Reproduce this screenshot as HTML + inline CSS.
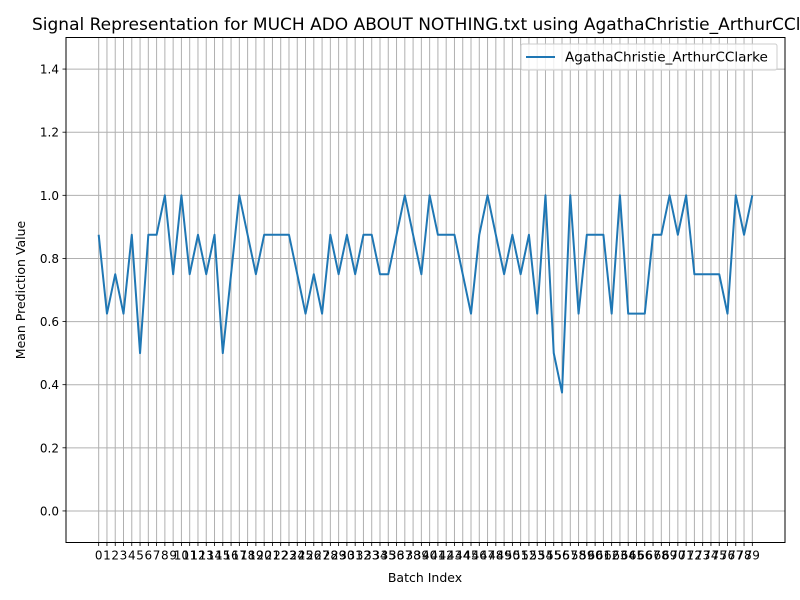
<!DOCTYPE html>
<html><head><meta charset="utf-8"><style>
body{margin:0;background:#fff;}
svg{display:block;font-family:"DejaVu Sans","Liberation Sans",sans-serif;}
</style></head><body>
<svg id="chart" width="800" height="600" xmlns="http://www.w3.org/2000/svg">
<rect width="800" height="600" fill="#fff"/>
<g id="grid"></g>
<g id="xticks"></g>
<g id="yticks"></g>
<g id="series"></g>
<rect x="66" y="37.5" width="719" height="505" fill="none" stroke="#000" stroke-width="1"/>
<text x="32" y="30" font-size="17" text-anchor="start">Signal Representation for MUCH ADO ABOUT NOTHING.txt using AgathaChristie_ArthurCClarke</text>
<text x="425" y="582" font-size="12.5" text-anchor="middle">Batch Index</text>
<text x="25" y="290" font-size="12.5" text-anchor="middle" transform="rotate(-90 25 290)">Mean Prediction Value</text>
<g>
<rect x="521" y="44" width="256" height="26" rx="2" fill="#fff" fill-opacity="0.8" stroke="#ccc"/>
<line x1="526" y1="57" x2="555" y2="57" stroke="#1f77b4" stroke-width="2"/>
<text x="565" y="61.5" font-size="13.6">AgathaChristie_ArthurCClarke</text>
</g>
</svg>
<script>
const batchIndex = Array.from({length:80},(_,i)=>i);
const meanValues = [0.875,0.625,0.75,0.625,0.875,0.5,0.875,0.875,1.0,0.75,
1.0,0.75,0.875,0.75,0.875,0.5,0.75,1.0,0.875,0.75,
0.875,0.875,0.875,0.875,0.75,0.625,0.75,0.625,0.875,0.75,
0.875,0.75,0.875,0.875,0.75,0.75,0.875,1.0,0.875,0.75,
1.0,0.875,0.875,0.875,0.75,0.625,0.875,1.0,0.875,0.75,
0.875,0.75,0.875,0.625,1.0,0.5,0.375,1.0,0.625,0.875,
0.875,0.875,0.625,1.0,0.625,0.625,0.625,0.875,0.875,1.0,
0.875,1.0,0.75,0.75,0.75,0.75,0.625,1.0,0.875,1.0];
const yTicks = [0.0,0.2,0.4,0.6,0.8,1.0,1.2,1.4];
const yTickLabels = ["0.0","0.2","0.4","0.6","0.8","1.0","1.2","1.4"];

const NS="http://www.w3.org/2000/svg";
const L=66,R=785,T=37.5,B=542.5;
const n=batchIndex.length;
const xmin=-(n-1)*0.05, xmax=(n-1)*1.05;
const ymin=-0.1, ymax=1.5;
const xs=v=>L+(v-xmin)/(xmax-xmin)*(R-L);
const ys=v=>B-(v-ymin)/(ymax-ymin)*(B-T);
function mk(tag,attrs,parent){const e=document.createElementNS(NS,tag);for(const k in attrs)e.setAttribute(k,attrs[k]);parent.appendChild(e);return e;}
const grid=document.getElementById('grid'),xt=document.getElementById('xticks'),yt=document.getElementById('yticks'),ser=document.getElementById('series');
batchIndex.forEach(i=>{
  const x=xs(i);
  const g=mk('line',{x1:x,x2:x,y1:T,y2:B,stroke:'#b0b0b0','stroke-width':1},grid);
  
  
  mk('line',{x1:x,x2:x,y1:B,y2:B+3.5,stroke:'#000','stroke-width':0.8},xt);
  const t=mk('text',{x:x,y:B+17,'font-size':12,'text-anchor':'middle'},xt);
  t.textContent=String(i);
  
  
});
yTicks.forEach((v,k)=>{
  const y=ys(v);
  const g=mk('line',{x1:L,x2:R,y1:y,y2:y,stroke:'#b0b0b0','stroke-width':1},grid);
  
  
  mk('line',{x1:L-3.5,x2:L,y1:y,y2:y,stroke:'#000','stroke-width':0.8},yt);
  const t=mk('text',{x:L-7,y:y+4.5,'font-size':12,'text-anchor':'end'},yt);
  t.textContent=yTickLabels[k];
  
  
});
const pts=batchIndex.map((i,k)=>xs(i).toFixed(2)+','+ys(meanValues[k]).toFixed(2)).join(' ');
const pl=mk('polyline',{points:pts,fill:'none',stroke:'#1f77b4','stroke-width':2,'stroke-linejoin':'round'},ser);


</script>
</body></html>
